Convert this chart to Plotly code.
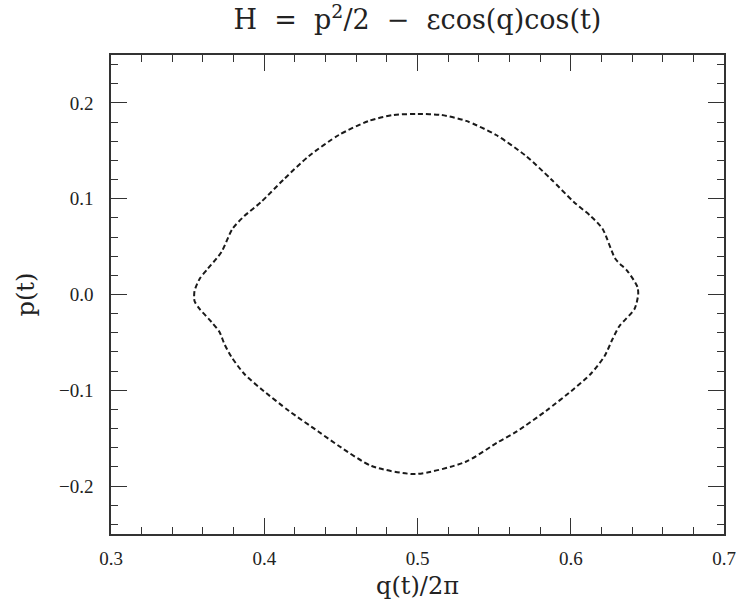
import plotly.graph_objects as go

# Poincaré section points of one orbit: q(t)/2pi and p(t), traced around the island
q_over_2pi = [0.644, 0.6435, 0.637, 0.6292, 0.6208, 0.613, 0.602, 0.587, 0.5708,
              0.5513, 0.5318, 0.5156, 0.500, 0.4844, 0.4682, 0.4487, 0.4292, 0.413,
              0.398, 0.387, 0.3792, 0.3721, 0.363, 0.3578, 0.3545, 0.3545, 0.3578,
              0.3656, 0.3708, 0.374, 0.3786, 0.387, 0.398, 0.4162, 0.4357, 0.4487,
              0.4701, 0.4987, 0.5312, 0.5526, 0.5643, 0.5838, 0.602, 0.613, 0.6221,
              0.6273, 0.6318, 0.6416, 0.644]
p_values = [0.000, 0.008, 0.0245, 0.037, 0.0684, 0.0819, 0.0966, 0.1206, 0.1446,
            0.1665, 0.1812, 0.1874, 0.1884, 0.1874, 0.1812, 0.1665, 0.1446, 0.1206,
            0.0966, 0.0819, 0.0684, 0.0444, 0.0266, 0.0162, 0.0037, -0.0068, -0.0151,
            -0.0287, -0.0391, -0.0517, -0.0652, -0.083, -0.0986, -0.1216, -0.1435, -0.1581,
            -0.179, -0.1874, -0.1748, -0.154, -0.1435, -0.1216, -0.0986, -0.083, -0.0642,
            -0.0464, -0.0329, -0.0151, 0.000]

x_ticks = [0.3, 0.4, 0.5, 0.6, 0.7]
y_ticks = [-0.2, -0.1, 0.0, 0.1, 0.2]

serif = "Liberation Serif, Times New Roman, serif"
wide_serif = "DejaVu Serif, serif"
ink = "#1a1a1a"

fig = go.Figure()
fig.add_trace(go.Scatter(
    x=q_over_2pi, y=p_values, mode="lines",
    line=dict(color=ink, width=2, dash="5px,3px", shape="spline", smoothing=0.7),
    showlegend=False, hoverinfo="skip",
))

axis_common = dict(
    showgrid=False, zeroline=False, showline=True, linecolor="#333", linewidth=1.5,
    mirror="allticks", ticks="inside", ticklen=16, tickwidth=1, tickcolor="#333",
    tickfont=dict(family=serif, size=19, color="#222"),
    title_font=dict(family=wide_serif, size=24, color="#222"),
    automargin=False, ticklabeloverflow="allow",
)

fig.update_xaxes(
    range=[0.3, 0.7], tickvals=x_ticks, ticktext=[f"{v:.1f}" for v in x_ticks],
    minor=dict(dtick=0.02, ticks="inside", ticklen=7, tickcolor="#333", tickwidth=1),
    title_text="q(t)/2π", title_standoff=10, ticklabelstandoff=6,
    **axis_common,
)
fig.update_yaxes(
    range=[-0.25, 0.25], tickvals=y_ticks,
    ticktext=[f"{v:.1f}".replace("-", "\u2212") for v in y_ticks],
    minor=dict(dtick=0.02, ticks="inside", ticklen=7, tickcolor="#333", tickwidth=1),
    title_text="p(t)", title_standoff=18, ticklabelstandoff=12,
    **axis_common,
)

fig.update_layout(
    width=736, height=607,
    margin=dict(l=111, r=12, t=55, b=73),
    paper_bgcolor="white", plot_bgcolor="white",
    title=dict(
        text="H  =  p<sup>2</sup>/2  −  εcos(q)cos(t)",
        x=0.5672, xanchor="center", y=0.968, yanchor="middle",
        font=dict(family=wide_serif, size=27, color="#222"),
    ),
)

fig.write_html("out.html")
